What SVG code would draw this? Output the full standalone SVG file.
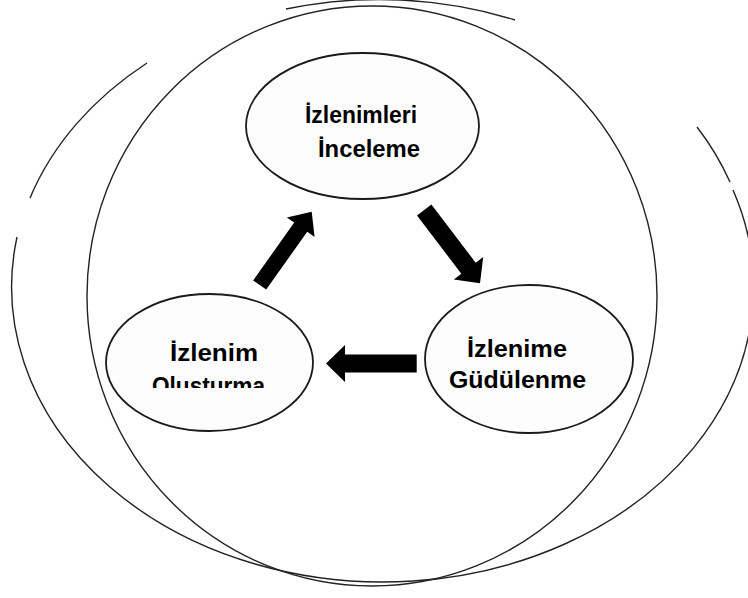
<svg xmlns="http://www.w3.org/2000/svg" width="748" height="598" viewBox="0 0 748 598">
<style>
.ring{fill:none;stroke:#222;stroke-width:1.4}
.node{fill:#fdfdfd;stroke:#1a1a1a;stroke-width:1.8}
.lbl{font-family:"Liberation Sans",Arial,sans-serif;font-weight:bold;font-size:23px;fill:#000}
.arrow{fill:#000;stroke:none}
</style>
<defs>
<clipPath id="clipLeft"><rect x="100" y="290" width="220" height="98"/></clipPath>
</defs>
<rect width="748" height="598" fill="#fff"/>
<g id="rings">
<path class="ring" d="M286,9 A371,295 0 0 1 515,20"/>
<path class="ring" d="M147,63 A371,295 0 0 0 30,198"/>
<path class="ring" d="M17,237 A371,295 0 1 0 733,190"/>
<path class="ring" d="M697,127 A371,295 0 0 1 730,182"/>
<ellipse class="ring" cx="372" cy="296" rx="285" ry="290"/>
</g>
<g id="connectors">
<polygon class="arrow" points="253.2,280.4 294.2,222.6 286.8,217.4 311.7,211.7 314.6,237.0 307.2,231.8 266.2,289.6"/>
<polygon class="arrow" points="431.4,204.5 475.7,262.7 483.2,257.0 480,283.3 453.8,279.4 461.3,273.7 417.0,215.5"/>
<polygon class="arrow" points="416.7,354.5 345,354.5 345,345 326,363.5 345,382 345,372.5 416.7,372.5"/>
</g>
<g id="node-inceleme">
<ellipse class="node" cx="362.5" cy="126" rx="116.5" ry="73"/>
<text class="lbl" x="305" y="123" textLength="112" lengthAdjust="spacingAndGlyphs">İzlenimleri</text>
<text class="lbl" x="318" y="157" textLength="102" lengthAdjust="spacingAndGlyphs">İnceleme</text>
</g>
<g id="node-olusturma">
<ellipse class="node" cx="209.5" cy="362.5" rx="103.5" ry="68.5"/>
<text class="lbl" x="170" y="361" textLength="88" lengthAdjust="spacingAndGlyphs">İzlenim</text>
<text class="lbl" x="152" y="394" textLength="113" lengthAdjust="spacingAndGlyphs" clip-path="url(#clipLeft)">Olusturma</text>
</g>
<g id="node-gudulenme">
<ellipse class="node" cx="529" cy="359" rx="104" ry="74"/>
<text class="lbl" x="467" y="357" textLength="100" lengthAdjust="spacingAndGlyphs">İzlenime</text>
<text class="lbl" x="449" y="388" textLength="137" lengthAdjust="spacingAndGlyphs">Güdülenme</text>
</g>
</svg>
